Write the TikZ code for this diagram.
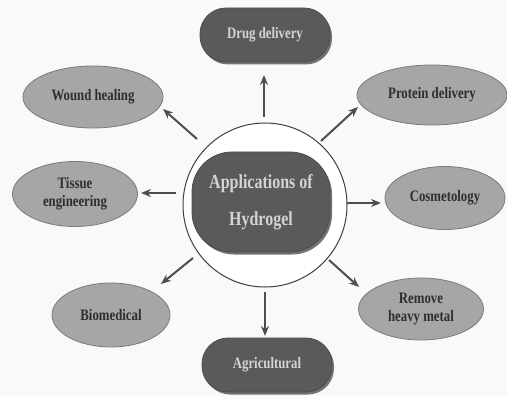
\documentclass[tikz,border=0pt]{standalone}
\usepackage{fontspec}
\setmainfont{Liberation Serif}
\newfontfamily\condfont[FakeStretch=0.8]{Liberation Serif}
\usetikzlibrary{arrows.meta,shadows,shapes.geometric}
\definecolor{bgc}{HTML}{F9F9F7}
\definecolor{ellfill}{HTML}{A6A6A6}
\definecolor{ellline}{HTML}{7A7A7A}
\definecolor{pillfill}{HTML}{5A5A5A}
\definecolor{pilltext}{HTML}{D4D4D4}
\definecolor{arrc}{HTML}{4E4E4E}
\begin{document}
\begin{tikzpicture}[x=1pt,y=-1pt,
  ell/.style={ellipse,draw=ellline,line width=0.8pt,fill=ellfill,inner sep=0pt,
     text=black!82,font=\condfont\bfseries\fontsize{16}{18}\selectfont,align=center},
  pill/.style={rounded corners=26pt,draw=black!70,line width=0.8pt,fill=pillfill,
     text=pilltext,font=\condfont\bfseries\fontsize{16}{18}\selectfont,align=center,
     drop shadow={shadow xshift=2pt,shadow yshift=-2.5pt,fill=black!55,opacity=1}},
  arr/.style={draw=arrc,line width=2pt,-{Stealth[length=10pt,width=8pt]}}]
\fill[bgc] (0,0) rectangle (507,396);
\useasboundingbox (0,0) rectangle (507,396);
% centre
\node[circle,draw=black!75,line width=1pt,fill=white,minimum size=164pt,inner sep=0pt] (ring) at (265,205) {};
\node[rounded corners=40pt,draw=black!70,line width=0.8pt,fill=pillfill,minimum width=138pt,minimum height=100pt,
  text=pilltext,font=\condfont\bfseries\fontsize{20}{37}\selectfont,align=center,
  drop shadow={shadow xshift=2pt,shadow yshift=-2.5pt,fill=black!55,opacity=1}] (core) at (261,202) {Applications of\\Hydrogel};
% outer nodes
\node[pill,minimum width=130pt,minimum height=54pt] (drug) at (265,35) {Drug delivery};
\node[pill,minimum width=130pt,minimum height=54pt] (agri) at (267,365) {Agricultural};
\node[ell,minimum width=140pt,minimum height=62pt] (wound) at (93,97) {Wound healing};
\node[ell,minimum width=125pt,minimum height=65pt] (tissue) at (75,194) {Tissue\\engineering};
\node[ell,minimum width=118pt,minimum height=64pt] (bio) at (111,315) {Biomedical};
\node[ell,minimum width=150pt,minimum height=60pt] (prot) at (432,95) {Protein delivery};
\node[ell,minimum width=120pt,minimum height=63pt] (cosm) at (445,198) {Cosmetology};
\node[ell,minimum width=125pt,minimum height=62pt] (metal) at (421,309) {Remove\\heavy metal};
% arrow end points
\coordinate (sDrug) at (264,117);  \coordinate (eDrug) at (264,75);
\coordinate (sWound) at (197,139); \coordinate (eWound) at (163,109);
\coordinate (sProt) at (321,141);  \coordinate (eProt) at (358,107);
\coordinate (sTis) at (176,193);   \coordinate (eTis) at (141,193);
\coordinate (sCos) at (347,203);   \coordinate (eCos) at (381,203);
\coordinate (sBio) at (193,258);   \coordinate (eBio) at (161,284);
\coordinate (sMet) at (329,260);   \coordinate (eMet) at (359,287);
\coordinate (sAgr) at (265,292);   \coordinate (eAgr) at (265,336);
\draw[arr] (sDrug) -- (eDrug);
\draw[arr] (sWound) -- (eWound);
\draw[arr] (sProt) -- (eProt);
\draw[arr] (sTis) -- (eTis);
\draw[arr] (sCos) -- (eCos);
\draw[arr] (sBio) -- (eBio);
\draw[arr] (sMet) -- (eMet);
\draw[arr] (sAgr) -- (eAgr);
\end{tikzpicture}
\end{document}
